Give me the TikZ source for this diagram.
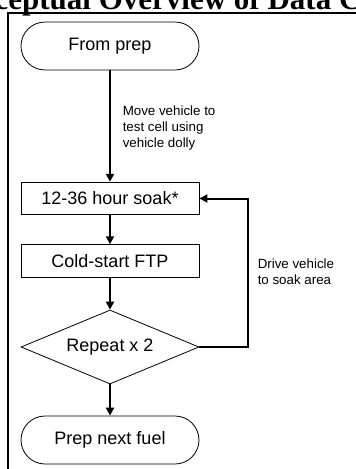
\documentclass[tikz,border=0pt]{standalone}
\usepackage{fontspec}
\setmainfont{Liberation Sans}
\newfontfamily\headfont{Liberation Serif}
\usepackage{tikz}
\usetikzlibrary{
  arrows.meta,
  shapes.geometric,
  calc,
  positioning
}
\tikzset{
  terminal/.style={
    draw, line width=0.6pt,
    rounded corners=18pt,
    minimum width=133.5pt, minimum height=36pt,
    font=\fontsize{13.5}{16}\selectfont
  },
  process/.style={
    draw, line width=0.6pt,
    minimum width=133.5pt, minimum height=24.5pt,
    font=\fontsize{13.5}{16}\selectfont
  },
  decision/.style={
    draw, diamond, aspect=2.4, inner sep=0pt, line width=0.6pt,
    minimum width=133.5pt, minimum height=55.5pt,
    font=\fontsize{13.5}{16}\selectfont
  },
  flow/.style={-{Triangle[length=6pt, width=6pt]}, line width=1.5pt},
  note/.style={font=\fontsize{10}{12}\selectfont, align=left, anchor=west, inner sep=0pt},
  heading/.style={font=\headfont\bfseries\fontsize{23.25}{28}\selectfont, anchor=base, inner sep=0pt},
}

\begin{document}
\begin{tikzpicture}[x=0.75pt, y=-0.75pt]

\useasboundingbox (0,0) rectangle (356,469);
\clip (0,0) rectangle (356,469);

% heading, cut off by the page edge
\node[heading] (head) at (178,9) {ceptual Overview of Data C};

% outer frame
\draw[line width=1.5pt] (8,13) rectangle (380,490);

% flow chart
\node[terminal] (fromprep) at (110,46)    {From prep};
\node[process]  (soak)     at (110,198.5) {12-36 hour soak*};
\node[process]  (ftp)      at (110,261)   {Cold-start FTP};
\node[decision] (repeat)   at (110,347)   {Repeat x 2};
\node[terminal] (nextfuel) at (110,440)   {Prep next fuel};

\draw[flow] (fromprep) -- (soak);
\draw[flow] (soak) -- (ftp);
\draw[flow] (ftp) -- (repeat);
\draw[flow] (repeat) -- (nextfuel);

% loop back to the soak
\coordinate (loop) at (248,198.5);
\draw[flow] (repeat.east) -| (loop) -- (soak.east);

% side notes
\node[note] (movenote)  at (122.5,128) {Move vehicle to\\test cell using\\vehicle dolly};
\node[note] (drivenote) at (257.5,272) {Drive vehicle\\to soak area};

\end{tikzpicture}
\end{document}
